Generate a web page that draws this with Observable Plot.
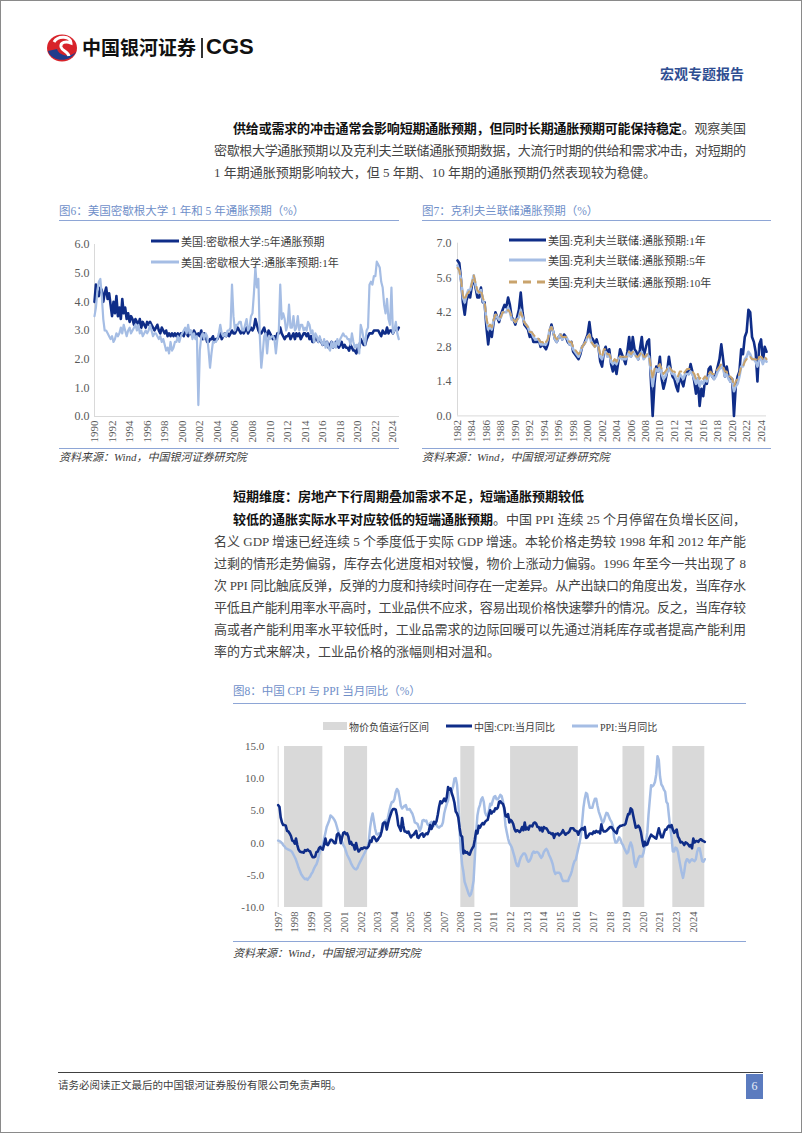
<!DOCTYPE html>
<html><head><meta charset="utf-8">
<script src="https://cdn.jsdelivr.net/npm/d3@7"></script>
<script src="https://cdn.jsdelivr.net/npm/@observablehq/plot@0.6"></script>
<style>
html,body{margin:0;padding:0;background:#fff;}
#page{position:relative;width:802px;height:1133px;box-sizing:border-box;border:1px solid #8a8a8a;overflow:hidden;font-family:"Liberation Serif","Noto Sans CJK SC",serif;color:#3c3c3c;background:#fff;}
.abs{position:absolute;}
.ln{position:absolute;font-size:13px;line-height:22px;height:22px;white-space:nowrap;color:#444;}
.ln b{color:#111;font-weight:700;}
.title{position:absolute;font-size:11.5px;color:#6f8fc9;line-height:14px;white-space:nowrap;}
.rule{position:absolute;height:0;border-top:1px solid #8ea6d6;}
.src{position:absolute;font-size:11px;font-style:italic;color:#404040;line-height:14px;white-space:nowrap;}
.leg{position:absolute;font-size:11px;color:#404040;display:flex;align-items:center;white-space:nowrap;}
.leg svg{display:block;}
</style></head>
<body>
<div id="page">
  <svg class="abs" style="left:44px;top:32px" width="34" height="30" viewBox="0 0 34 30">
    <ellipse cx="17" cy="15" rx="15" ry="13.5" fill="#d8232a"/>
    <path d="M3,18 C6,28 24,31 31,19 C25,25 14,23 12,16 Z" fill="#1f3c8c"/>
    <path d="M9,9 C13,2 26,3 26,10 C21,8 15,9 16,14 C17,18 23,18 24,23" stroke="#fff" stroke-width="3" fill="none"/>
  </svg>
  <div class="abs" style="left:81px;top:33px;font-family:'Noto Sans CJK SC';font-weight:700;font-size:19px;line-height:26px;color:#111;white-space:nowrap;">中国银河证券</div>
  <div class="abs" style="left:200px;top:37px;width:1.5px;height:20px;background:#333;"></div>
  <div class="abs" style="left:205px;top:32px;font-family:'Liberation Sans',Roboto;font-weight:700;font-size:22px;line-height:28px;color:#111;">CGS</div>
  <div class="abs" style="left:659px;top:63px;font-family:'Noto Sans CJK SC';font-weight:700;font-size:14px;line-height:18px;color:#2f4e92;white-space:nowrap;">宏观专题报告</div>

  <div class="ln" data-w="513" style="left:232px;top:117px;"><b>供给或需求的冲击通常会影响短期通胀预期，但同时长期通胀预期可能保持稳定</b>。观察美国</div>
  <div class="ln" data-w="532" style="left:213px;top:139px;">密歇根大学通胀预期以及克利夫兰联储通胀预期数据，大流行时期的供给和需求冲击，对短期的</div>
  <div class="ln" style="left:213px;top:161px;">1 年期通胀预期影响较大，但 5 年期、10 年期的通胀预期仍然表现较为稳健。</div>

  <div class="title" style="left:58px;top:203px;">图6：美国密歇根大学 1 年和 5 年通胀预期（%）</div>
  <div class="rule" style="left:58px;top:219px;width:340px;"></div>
  <div class="title" style="left:421px;top:203px;">图7：克利夫兰联储通胀预期（%）</div>
  <div class="rule" style="left:421px;top:219px;width:349px;"></div>

  <div class="rule" style="left:58px;top:447px;width:340px;"></div>
  <div class="src" style="left:58px;top:449px;">资料来源：Wind，中国银河证券研究院</div>
  <div class="rule" style="left:421px;top:447px;width:349px;"></div>
  <div class="src" style="left:421px;top:449px;">资料来源：Wind，中国银河证券研究院</div>

  <div class="ln" style="left:232px;top:485px;"><b>短期维度：房地产下行周期叠加需求不足，短端通胀预期较低</b></div>
  <div class="ln" data-w="513" style="left:232px;top:508px;"><b>较低的通胀实际水平对应较低的短端通胀预期</b>。中国 PPI 连续 25 个月停留在负增长区间，</div>
  <div class="ln" data-w="532" style="left:213px;top:530px;">名义 GDP 增速已经连续 5 个季度低于实际 GDP 增速。本轮价格走势较 1998 年和 2012 年产能</div>
  <div class="ln" data-w="532" style="left:213px;top:552px;">过剩的情形走势偏弱，库存去化进度相对较慢，物价上涨动力偏弱。1996 年至今一共出现了 8</div>
  <div class="ln" data-w="532" style="left:213px;top:574px;">次 PPI 同比触底反弹，反弹的力度和持续时间存在一定差异。从产出缺口的角度出发，当库存水</div>
  <div class="ln" data-w="532" style="left:213px;top:596px;">平低且产能利用率水平高时，工业品供不应求，容易出现价格快速攀升的情况。反之，当库存较</div>
  <div class="ln" data-w="532" style="left:213px;top:618px;">高或者产能利用率水平较低时，工业品需求的边际回暖可以先通过消耗库存或者提高产能利用</div>
  <div class="ln" style="left:213px;top:640px;">率的方式来解决，工业品价格的涨幅则相对温和。</div>

  <div class="title" style="left:232px;top:683px;">图8：中国 CPI 与 PPI 当月同比（%）</div>
  <div class="rule" style="left:232px;top:702px;width:513px;"></div>
  <div class="rule" style="left:232px;top:940px;width:513px;"></div>
  <div class="src" style="left:232px;top:945px;">资料来源：Wind，中国银河证券研究院</div>

  <div class="abs" style="left:57px;top:1071px;width:705px;height:0;border-top:1.5px solid #404040;"></div>
  <div class="abs" style="left:57px;top:1078px;font-size:10.5px;line-height:14px;color:#404040;white-space:nowrap;">请务必阅读正文最后的中国银河证券股份有限公司免责声明。</div>
  <div class="abs" style="left:745px;top:1073px;width:17px;height:25px;background:#5b7bbf;color:#e8eef8;font-size:12px;line-height:25px;text-align:center;">6</div>
</div>
<script>
// ---------- Figure 6: Michigan (bimonthly, from 1990-01) ----------
const mich5 = [
4.0,4.6,4.3,4.2,4.5,4.4, 4.0,4.3,4.5,4.1,4.3,3.9, 3.5,4.0,3.6,4.2,3.5,3.8, 3.4,4.1,3.6,3.8,3.4,3.6,
3.3,3.5,3.4,3.2,3.4,3.3, 3.2,3.4,3.1,3.3,3.2,3.1, 3.3,3.2,3.3,3.2,3.1,3.0, 3.1,3.2,3.0,2.9,3.1,3.0,
2.9,3.0,2.8,2.9,2.8,2.9, 2.8,2.9,2.8,2.9,2.8,2.9, 2.9,2.8,3.0,2.9,2.8,3.0, 2.9,2.8,3.0,2.9,2.8,2.9,
2.8,3.0,2.7,2.9,2.8,2.6, 2.6,2.7,2.7,2.8,2.6,2.7, 2.7,2.8,2.9,2.7,2.8,2.9, 2.8,2.9,2.8,2.9,3.0,2.9,
2.9,3.0,3.1,3.0,2.9,3.0, 2.9,3.0,3.1,2.9,3.0,3.1, 3.0,3.1,3.4,3.2,3.0,2.9, 2.9,3.0,3.1,2.9,2.8,3.0,
2.9,2.8,2.7,2.8,2.7,2.9, 2.9,3.1,2.9,2.8,2.7,2.8, 2.8,2.9,2.7,2.8,2.9,2.7, 2.9,2.8,2.9,2.7,2.8,2.9,
2.9,2.8,2.9,2.7,2.8,2.6, 2.6,2.8,2.7,2.6,2.7,2.6, 2.5,2.6,2.5,2.6,2.4,2.5, 2.6,2.4,2.5,2.6,2.5,2.4,
2.5,2.6,2.4,2.5,2.4,2.4, 2.3,2.5,2.4,2.3,2.3,2.2, 2.4,2.4,2.7,2.6,2.5,2.5, 2.7,2.8,2.9,2.9,2.9,3.0,
3.0,3.0,3.0,2.9,2.8,3.0, 2.9,2.9,3.1,2.9,3.0,3.0, 2.9,3.0,3.1,3.0,3.1];
const mich1 = [
3.5,3.8,4.4,4.7,4.8,4.2, 3.4,3.0,3.0,2.9,2.8,2.7, 2.8,2.6,2.7,2.9,2.8,2.9, 3.1,2.9,3.2,3.0,2.8,3.0,
3.1,2.9,3.0,3.1,3.2,3.0, 3.2,2.9,3.0,2.8,2.9,3.0, 2.9,3.0,3.2,3.0,2.8,2.9, 2.9,2.8,2.7,2.8,2.6,2.7,
2.5,2.3,2.4,2.2,2.6,2.3, 2.4,2.6,2.6,2.8,2.6,2.8, 2.9,3.0,3.1,2.9,3.2,2.9, 3.0,2.7,2.9,2.7,2.8,0.4,
2.3,2.8,2.9,2.7,2.9,2.8, 2.3,1.7,2.2,2.6,2.6,2.6, 2.7,2.9,3.2,2.9,2.8,2.9, 2.8,3.0,3.0,3.1,4.6,3.5,
3.0,3.2,3.2,3.3,3.3,3.0, 3.0,3.2,3.4,3.0,3.1,3.5, 3.6,4.3,5.2,4.5,4.8,2.8, 1.7,2.2,2.8,2.9,2.2,2.8,
2.7,2.8,2.8,2.7,2.2,2.7, 3.0,4.6,3.4,3.6,3.4,3.0, 3.2,3.9,3.1,3.1,3.5,3.0, 3.1,3.5,3.0,3.2,3.2,3.0,
3.1,3.0,3.3,3.2,2.9,3.0, 2.6,2.9,2.8,2.6,2.8,2.6, 2.5,2.7,2.4,2.6,2.4,2.3, 2.6,2.4,2.6,2.4,2.7,2.5,
2.7,2.8,2.9,2.8,2.8,2.7, 2.7,2.5,2.9,2.6,2.4,2.5, 2.5,2.2,3.2,3.0,2.7,2.5, 3.0,3.1,4.6,4.7,4.6,4.9,
4.9,5.4,5.3,5.2,4.7,4.5, 3.9,3.6,4.1,3.4,3.2,4.5, 2.9,3.0,3.3,2.9,2.7];
const c6Ticks = ["1990","1992","1994","1996","1998","2000","2002","2004","2006","2008","2010","2012","2014","2016","2018","2020","2022","2024"];
const c6YTicks = [0,1,2,3,4,5,6];
const c6Names = ["美国:密歇根大学:5年通胀预期","美国:密歇根大学:通胀率预期:1年"];

// ---------- Figure 7: Cleveland Fed (quarterly, from 1982-01) ----------
const cle1 = [
6.3,6.2,5.5,4.6, 4.1,4.7,4.9,4.8, 5.3,5.6,5.2,4.8, 4.8,5.2,4.6,4.6, 3.6,2.9,3.5,3.2, 3.8,4.2,4.0,3.8,
4.1,4.3,4.5,4.4, 4.8,4.5,4.0,3.9, 3.7,4.0,4.3,5.0, 4.2,3.7,3.6,3.5, 3.2,3.3,3.0,3.0, 3.0,3.1,2.8,2.9,
2.8,2.7,2.9,3.4, 3.7,3.4,3.1,3.0, 3.2,3.3,3.1,3.3, 3.2,3.0,2.9,3.0, 2.6,2.5,2.4,2.3, 2.5,2.8,2.9,3.1,
3.3,3.8,3.2,3.1, 2.9,3.1,2.8,2.2, 2.0,2.6,2.8,2.5, 2.7,2.1,1.8,2.1, 1.7,2.2,2.7,2.5, 2.3,2.1,2.6,3.2,
2.4,3.2,2.7,2.6, 2.3,2.7,3.2,2.4, 2.7,3.0,3.1,1.5, 0.0,1.3,2.0,1.8, 2.4,1.5,1.1,1.4, 1.8,2.4,1.9,1.6,
1.5,1.2,1.0,1.6, 1.4,1.2,1.6,1.8, 1.7,2.1,1.8,1.4, 0.9,1.5,0.4,1.1, 0.8,1.5,1.3,1.9, 2.0,1.6,1.5,1.7,
2.0,2.3,2.9,2.3, 1.6,2.0,1.6,1.4, 1.5,0.0,1.2,1.6, 1.8,2.7,2.5,3.2, 3.4,4.3,4.2,3.2, 3.0,2.6,1.4,2.9,
3.1,2.2,2.8,2.6];
const cle5 = [
6.1,5.9,5.5,4.8, 4.6,4.9,5.1,5.1, 5.4,5.7,5.3,5.0, 5.0,5.1,4.7,4.5, 3.9,3.5,3.6,3.5, 3.9,4.1,4.0,3.9,
4.0,4.2,4.2,4.2, 4.4,4.2,3.9,3.9, 3.8,3.9,4.0,4.3, 4.0,3.8,3.7,3.6, 3.4,3.4,3.2,3.1, 3.1,3.1,2.9,2.9,
2.9,2.9,3.1,3.5, 3.6,3.4,3.1,3.0, 3.2,3.3,3.1,3.2, 3.2,3.1,2.9,2.9, 2.7,2.6,2.5,2.4, 2.6,2.8,2.9,3.0,
3.2,3.3,3.0,2.9, 2.8,2.9,2.8,2.4, 2.3,2.6,2.6,2.4, 2.5,2.2,2.1,2.2, 2.1,2.3,2.4,2.3, 2.3,2.3,2.4,2.6,
2.4,2.6,2.5,2.4, 2.3,2.5,2.6,2.3, 2.4,2.5,2.4,1.8, 1.2,1.7,1.9,1.8, 2.0,1.7,1.5,1.6, 1.8,2.0,1.8,1.7,
1.7,1.5,1.4,1.7, 1.6,1.5,1.7,1.7, 1.7,1.8,1.7,1.5, 1.3,1.5,1.2,1.4, 1.3,1.5,1.4,1.6, 1.7,1.6,1.5,1.6,
1.8,1.9,2.0,1.9, 1.6,1.7,1.5,1.4, 1.4,1.0,1.2,1.3, 1.6,2.0,2.0,2.3, 2.4,2.6,2.5,2.3, 2.3,2.2,2.0,2.3,
2.3,2.1,2.3,2.2];
const cle10 = [
6.0,5.9,5.5,4.9, 4.7,4.9,5.0,5.1, 5.4,5.7,5.4,5.1, 5.0,5.1,4.8,4.6, 4.0,3.6,3.7,3.6, 3.9,4.1,4.1,4.0,
4.0,4.2,4.2,4.2, 4.3,4.2,4.0,3.9, 3.8,3.9,4.0,4.2, 4.0,3.8,3.7,3.6, 3.4,3.4,3.3,3.2, 3.2,3.1,3.0,3.0,
2.9,3.0,3.1,3.5, 3.6,3.4,3.2,3.1, 3.2,3.3,3.2,3.2, 3.2,3.1,3.0,3.0, 2.8,2.7,2.6,2.5, 2.6,2.8,2.9,3.0,
3.2,3.3,3.0,2.9, 2.8,2.9,2.8,2.5, 2.4,2.7,2.7,2.5, 2.5,2.3,2.2,2.3, 2.2,2.4,2.4,2.4, 2.4,2.4,2.4,2.6,
2.5,2.6,2.5,2.4, 2.4,2.5,2.6,2.4, 2.4,2.5,2.4,2.0, 1.5,1.9,2.0,2.0, 2.1,1.9,1.7,1.8, 1.9,2.0,1.9,1.8,
1.8,1.7,1.6,1.8, 1.8,1.7,1.8,1.9, 1.9,1.9,1.8,1.7, 1.5,1.7,1.5,1.6, 1.5,1.6,1.5,1.7, 1.8,1.7,1.7,1.8,
1.9,2.0,2.1,2.0, 1.8,1.8,1.6,1.6, 1.5,1.2,1.4,1.5, 1.7,2.0,2.0,2.2, 2.3,2.4,2.4,2.3, 2.3,2.3,2.2,2.4,
2.4,2.3,2.4,2.3];
const c7Ticks = ["1982","1984","1986","1988","1990","1992","1994","1996","1998","2000","2002","2004","2006","2008","2010","2012","2014","2016","2018","2020","2022","2024"];
const c7YTicks = [0,1.4,2.8,4.2,5.6,7.0];
const c7Names = ["美国:克利夫兰联储:通胀预期:1年","美国:克利夫兰联储:通胀预期:5年","美国:克利夫兰联储:通胀预期:10年"];

// ---------- Figure 8: China CPI & PPI YoY (monthly, from 1997-01) ----------
const cpi = [
5.9,5.6,4.0,3.2,2.8,2.8,2.7,1.9,1.8,1.5,1.1,0.4,
0.3,-0.1,0.7,-0.3,-1.0,-1.3,-1.4,-1.4,-1.5,-1.1,-1.2,-1.0,
-1.2,-1.3,-1.8,-2.2,-2.2,-2.1,-1.4,-1.3,-0.8,-0.6,-0.9,-1.0,
-0.2,0.7,-0.2,-0.3,0.1,0.5,0.5,0.3,0.0,0.0,1.3,1.5,
1.2,0.0,0.8,1.6,1.7,1.4,1.5,1.0,-0.1,0.2,-0.3,-0.3,
-1.0,0.0,-0.8,-1.3,-1.1,-0.8,-0.9,-0.7,-0.7,-0.8,-0.7,-0.4,
0.4,0.2,0.9,1.0,0.7,0.3,0.5,0.9,1.1,1.8,3.0,3.2,
3.2,2.1,3.0,3.8,4.4,5.0,5.3,5.3,5.2,4.3,2.8,2.4,
1.9,3.9,2.7,1.8,1.8,1.6,1.8,1.3,0.9,1.2,1.3,1.6,
1.9,0.9,0.8,1.2,1.4,1.5,1.0,1.3,1.5,1.4,1.9,2.8,
2.2,2.7,3.3,3.0,3.4,4.4,5.6,6.5,6.2,6.5,6.9,6.5,
7.1,8.7,8.3,8.5,7.7,7.1,6.3,4.9,4.6,4.0,2.4,1.2,
1.0,-1.6,-1.2,-1.5,-1.4,-1.7,-1.8,-1.2,-0.8,-0.5,0.6,1.9,
1.5,2.7,2.4,2.8,3.1,2.9,3.3,3.5,3.6,4.4,5.1,4.6,
4.9,4.9,5.4,5.3,5.5,6.4,6.5,6.2,6.1,5.5,4.2,4.1,
4.5,3.2,3.6,3.4,3.0,2.2,1.8,2.0,1.9,1.7,2.0,2.5,
2.0,3.2,2.1,2.4,2.1,2.7,2.7,2.6,3.1,3.2,3.0,2.5,
2.5,2.0,2.4,1.8,2.5,2.3,2.3,2.0,1.6,1.6,1.4,1.5,
0.8,1.4,1.4,1.5,1.2,1.4,1.6,2.0,1.6,1.3,1.5,1.6,
1.8,2.3,2.3,2.3,2.0,1.9,1.8,1.3,1.9,2.1,2.3,2.1,
2.5,0.8,0.9,1.2,1.5,1.5,1.4,1.8,1.6,1.9,1.7,1.8,
1.5,2.9,2.1,1.8,1.8,1.9,2.1,2.3,2.5,2.5,2.2,1.9,
1.7,1.5,2.3,2.5,2.7,2.7,2.8,2.8,3.0,3.8,4.5,4.5,
5.4,5.2,4.3,3.3,2.4,2.5,2.7,2.4,1.7,0.5,-0.5,0.2,
-0.3,-0.2,0.4,0.9,1.3,1.1,1.0,0.8,0.7,1.5,2.3,1.5,
0.9,0.9,1.5,2.1,2.1,2.5,2.7,2.5,2.8,2.1,1.6,1.8,
2.1,1.0,0.7,0.1,0.2,0.0,-0.3,0.1,0.0,-0.2,-0.5,-0.3,
-0.8,0.7,0.1,0.3,0.3,0.2,0.5,0.6,0.4,0.3,0.2];
const ppi = [
0.4,0.3,0.2,0.0,-0.3,-0.5,-0.8,-0.9,-1.0,-1.1,-1.2,-1.4,
-1.8,-2.2,-2.6,-3.2,-3.8,-4.3,-4.8,-5.1,-5.4,-5.6,-5.5,-5.7,
-5.4,-5.2,-4.8,-4.5,-4.0,-3.6,-3.3,-2.7,-1.8,-1.0,-0.6,-0.3,
0.7,1.6,2.5,3.0,3.5,4.3,4.1,3.9,3.6,3.2,2.5,1.8,
1.2,0.8,0.3,-0.3,-0.6,-1.2,-1.8,-2.2,-2.6,-3.1,-3.5,-3.8,
-4.0,-4.1,-3.9,-3.4,-3.0,-2.6,-2.2,-1.8,-1.4,-1.0,-0.6,0.3,
2.4,3.8,4.6,3.4,2.2,1.4,1.3,1.5,1.6,1.8,2.4,3.2,
3.5,3.2,4.0,5.0,5.8,6.4,6.4,6.8,7.9,8.4,8.1,7.1,
5.8,5.4,5.6,5.8,5.9,5.2,5.2,5.3,4.9,4.6,4.0,3.2,
3.1,3.0,2.5,1.9,2.4,3.5,3.6,3.4,3.5,2.9,2.8,3.1,
3.3,2.6,2.7,2.9,2.8,2.5,2.4,2.6,2.7,3.2,4.6,5.4,
6.1,6.6,8.0,8.1,8.2,8.8,10.0,10.1,9.1,6.6,2.0,-1.1,
-3.3,-4.5,-6.0,-6.6,-7.2,-7.8,-8.2,-7.9,-7.0,-5.8,-2.1,1.7,
4.3,5.4,5.9,6.8,7.1,6.4,4.8,4.3,4.3,5.0,6.1,5.9,
6.6,7.2,7.3,6.8,6.8,7.1,7.5,7.3,6.5,5.0,2.7,1.7,
0.7,0.0,-0.3,-0.7,-1.4,-2.1,-2.9,-3.5,-3.6,-2.8,-2.2,-1.9,
-1.6,-1.6,-1.9,-2.6,-2.9,-2.7,-2.3,-1.6,-1.3,-1.5,-1.4,-1.4,
-1.6,-2.0,-2.3,-2.0,-1.4,-1.1,-0.9,-1.2,-1.8,-2.2,-2.7,-3.3,
-4.3,-4.8,-4.6,-4.6,-4.6,-4.8,-5.4,-5.9,-5.9,-5.9,-5.9,-5.9,
-5.3,-4.9,-4.3,-3.4,-2.8,-2.6,-1.7,-0.8,0.1,1.2,3.3,5.5,
6.9,7.8,7.6,6.4,5.5,5.5,5.5,6.3,6.9,6.9,5.8,4.9,
4.3,3.7,3.1,3.4,4.1,4.7,4.6,4.1,3.6,3.3,2.7,0.9,
0.1,0.1,0.4,0.9,0.6,0.0,-0.3,-0.8,-1.2,-1.6,-1.4,-0.5,
0.1,-0.4,-1.5,-3.1,-3.7,-3.0,-2.4,-2.0,-2.1,-2.1,-1.5,-0.4,
0.3,1.7,4.4,6.8,9.0,8.8,9.0,9.5,10.7,13.5,12.9,10.3,
9.1,8.8,8.3,8.0,6.4,6.1,4.2,2.3,0.9,-1.3,-1.3,-0.7,
-0.8,-1.4,-2.5,-3.6,-4.6,-5.4,-4.4,-3.0,-2.5,-2.6,-3.0,-2.7,
-2.5,-2.7,-2.8,-2.5,-1.4,-0.8,-0.8,-1.8,-2.8,-2.9,-2.5];
const bandStart = ["1997-06","2001-05","2008-12","2012-03","2019-07","2022-10"];
const bandEnd   = ["1999-12","2002-11","2009-11","2016-08","2020-12","2024-11"];
const c8Ticks = ["1997-01","1998-02","1999-03","2000-04","2001-05","2002-06","2003-07","2004-08","2005-09","2006-10","2007-11","2008-12","2010-01","2011-02","2012-03","2013-04","2014-05","2015-06","2016-07","2017-08","2018-09","2019-10","2020-11","2021-12","2023-01","2024-02"];
const c8YTicks = [-10,-5,0,5,10,15];
const c8Names = ["物价负值运行区间","中国:CPI:当月同比","PPI:当月同比"];

// ---------- colours ----------
const DARK = "#0f2d88", LIGHT = "#a5bde4", TAN = "#c9a36c", BAND = "#d9d9d9", AXIS = "#d9d9d9";

// ---------- helpers ----------
const page = document.getElementById("page");
const parseYM = s => { const [y, m] = s.split("-").map(Number); return new Date(Date.UTC(y, (m || 1) - 1, 1)); };
const fmt1 = d => d.toFixed(1);
const yearFmt = d => String(d.getUTCFullYear());
const series = (vals, y0, stepMonths) => vals.map((v, i) => ({date: new Date(Date.UTC(y0, i * stepMonths, 1)), v}));
const FONT = '"Liberation Serif","Noto Sans CJK SC",serif';
function place(el, left, top) {
  const d = document.createElement("div");
  d.className = "abs"; d.style.left = left + "px"; d.style.top = top + "px";
  d.appendChild(el); page.appendChild(d);
}
function legend(left, cy, w, kind, color, label, fs) {
  const d = document.createElement("div");
  d.className = "leg"; d.style.left = left + "px"; d.style.top = (cy - 8) + "px";
  d.style.height = "16px"; d.style.fontSize = fs + "px";
  let s;
  if (kind === "rect") s = `<svg width="${w}" height="16"><rect x="0" y="4" width="${w}" height="8" fill="${color}"/></svg>`;
  else s = `<svg width="${w}" height="16"><line x1="0" x2="${w}" y1="8" y2="8" stroke="${color}" stroke-width="3" ${kind === "dash" ? 'stroke-dasharray="8,6"' : ""}/></svg>`;
  d.innerHTML = s + `<span style="margin-left:2px">${label}</span>`;
  page.appendChild(d);
}
// justify full text lines to their target width via letter-spacing
function justifyLines() {
  document.querySelectorAll(".ln[data-w]").forEach(el => {
    el.style.letterSpacing = "0px";
    const target = +el.dataset.w;
    const natural = el.getBoundingClientRect().width;
    const n = el.textContent.length;
    el.style.letterSpacing = ((target - natural) / (n - 1)) + "px";
  });
}
justifyLines();
if (document.fonts && document.fonts.ready) document.fonts.ready.then(justifyLines);

// ---------- Figure 6 ----------
{
  const d5 = series(mich5, 1990, 2), d1 = series(mich1, 1990, 2);
  const x0 = parseYM("1990-01"), x1 = parseYM("2024-10");
  const chart = Plot.plot({
    width: 362, height: 222, marginLeft: 53, marginRight: 4, marginTop: 13, marginBottom: 37,
    style: {fontFamily: FONT, fontSize: "11px", color: "#595959", background: "transparent", overflow: "visible"},
    x: {type: "utc", domain: [x0, x1], label: null},
    y: {domain: [0, 6], label: null},
    marks: [
      Plot.ruleY([0], {stroke: AXIS}),
      Plot.ruleX([x0], {stroke: AXIS}),
      Plot.axisY({ticks: c6YTicks, tickSize: 0, tickPadding: 5, tickFormat: fmt1, fontSize: 12, fill: "#595959"}),
      Plot.axisX({ticks: c6Ticks.map(parseYM), tickSize: 0, tickPadding: 4, tickRotate: -90, tickFormat: yearFmt, fontSize: 11, fill: "#595959"}),
      Plot.line(d5, {x: "date", y: "v", stroke: DARK, strokeWidth: 2.6, strokeLinejoin: "round"}),
      Plot.line(d1, {x: "date", y: "v", stroke: LIGHT, strokeWidth: 2.2, strokeLinejoin: "round"})
    ]
  });
  place(chart, 40, 230);
  legend(150, 240, 28, "line", DARK, c6Names[0], 11);
  legend(150, 261, 28, "line", LIGHT, c6Names[1], 11);
}

// ---------- Figure 7 ----------
{
  const a = series(cle1, 1982, 3), b = series(cle5, 1982, 3), c = series(cle10, 1982, 3);
  const x0 = parseYM("1982-01"), x1 = parseYM("2024-10");
  const chart = Plot.plot({
    width: 365, height: 222, marginLeft: 46, marginRight: 10, marginTop: 12.7, marginBottom: 36.6,
    style: {fontFamily: FONT, fontSize: "11px", color: "#595959", background: "transparent", overflow: "visible"},
    x: {type: "utc", domain: [x0, x1], label: null},
    y: {domain: [0, 7], label: null},
    marks: [
      Plot.ruleY([0], {stroke: AXIS}),
      Plot.ruleX([x0], {stroke: AXIS}),
      Plot.axisY({ticks: c7YTicks, tickSize: 0, tickPadding: 6, tickFormat: fmt1, fontSize: 12, fill: "#595959"}),
      Plot.axisX({ticks: c7Ticks.map(parseYM), tickSize: 0, tickPadding: 4, tickRotate: -90, tickFormat: yearFmt, fontSize: 11, fill: "#595959"}),
      Plot.line(a, {x: "date", y: "v", stroke: DARK, strokeWidth: 2.6, strokeLinejoin: "round"}),
      Plot.line(b, {x: "date", y: "v", stroke: LIGHT, strokeWidth: 2.6, strokeLinejoin: "round"}),
      Plot.line(c, {x: "date", y: "v", stroke: TAN, strokeWidth: 2, strokeDasharray: "7,5"})
    ]
  });
  place(chart, 410, 229);
  legend(508, 239, 37, "line", DARK, c7Names[0], 11);
  legend(508, 259, 37, "line", LIGHT, c7Names[1], 11);
  legend(508, 281, 37, "dash", TAN, c7Names[2], 11);
}

// ---------- Figure 8 ----------
{
  const dc = series(cpi, 1997, 1), dp = series(ppi, 1997, 1);
  const bands = bandStart.map((s, i) => ({start: parseYM(s), end: parseYM(bandEnd[i])}));
  const x0 = parseYM("1997-01"), x1 = parseYM("2024-11");
  const chart = Plot.plot({
    width: 490, height: 205, marginLeft: 56.7, marginRight: 6.7, marginTop: 10, marginBottom: 34,
    style: {fontFamily: FONT, fontSize: "11px", color: "#595959", background: "transparent", overflow: "visible"},
    x: {type: "utc", domain: [x0, x1], label: null},
    y: {domain: [-10, 15], label: null},
    marks: [
      Plot.rect(bands, {x1: "start", x2: "end", fill: BAND}),
      Plot.ruleY([0], {stroke: AXIS}),
      Plot.ruleX([x0], {stroke: AXIS}),
      Plot.axisY({ticks: c8YTicks, tickSize: 0, tickPadding: 14, tickFormat: fmt1, fontSize: 11, fill: "#595959"}),
      Plot.axisX({ticks: c8Ticks.map(parseYM), tickSize: 0, tickPadding: 4, tickRotate: -90, tickFormat: yearFmt, fontSize: 10.5, fill: "#595959"}),
      Plot.line(dp, {x: "date", y: "v", stroke: LIGHT, strokeWidth: 2.5, strokeLinejoin: "round"}),
      Plot.line(dc, {x: "date", y: "v", stroke: DARK, strokeWidth: 2.6, strokeLinejoin: "round"})
    ]
  });
  place(chart, 220, 735);
  legend(322, 725, 24, "rect", BAND, c8Names[0], 10);
  legend(445, 725, 26, "line", DARK, c8Names[1], 10);
  legend(571, 725, 26, "line", LIGHT, c8Names[2], 10);
}
</script>
</body></html>
